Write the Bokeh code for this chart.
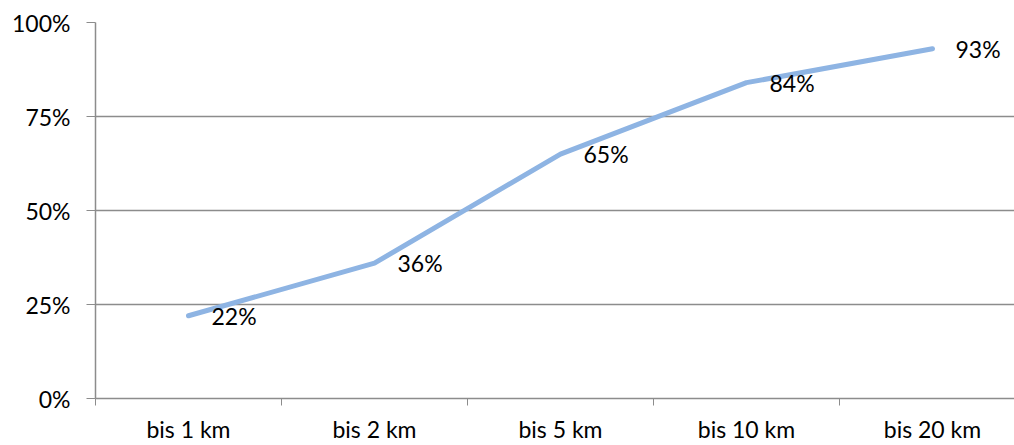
from bokeh.plotting import figure
from bokeh.models import Range1d, FixedTicker, ColumnDataSource, PrintfTickFormatter
from bokeh.core.properties import value
from bokeh.embed import file_html
from bokeh.resources import INLINE

categories = ["bis 1 km", "bis 2 km", "bis 5 km", "bis 10 km", "bis 20 km"]
values = [22, 36, 65, 84, 93]
y_ticks = [0, 25, 50, 75, 100]

FONT = "Lato"
FSIZE = "23px"

xs = [i + 0.5 for i in range(len(categories))]
src = ColumnDataSource(dict(x=xs, y=values, lab=[f"{v}%" for v in values]))

p = figure(width=1014, height=445, output_backend="svg", toolbar_location=None,
           x_range=Range1d(0, 4.941), y_range=Range1d(0, 100),
           min_border_left=95, min_border_right=0, min_border_top=22, min_border_bottom=47)
p.outline_line_color = None
p.background_fill_color = "white"
p.border_fill_color = "white"

p.line("x", "y", source=src, line_color="#8EB4E3", line_width=5, line_cap="round")
p.text("x", "y", text="lab", source=src, text_font=value(FONT), text_font_size=FSIZE,
       text_align="left", text_baseline="middle", x_offset=23, y_offset=0, text_color="black")

xa = p.xaxis[0]
xa.ticker = FixedTicker(ticks=xs, minor_ticks=list(range(len(categories) + 1)))
xa.major_label_overrides = {x: c for x, c in zip(xs, categories)}
xa.major_tick_out = 0
xa.major_tick_in = 0
xa.minor_tick_out = 7
xa.minor_tick_in = 0
xa.minor_tick_line_color = "#8c8c8c"
xa.axis_line_color = "#8c8c8c"
xa.axis_line_width = 1.5
xa.major_label_text_font = FONT
xa.major_label_text_font_size = FSIZE
xa.major_label_text_color = "black"
xa.major_label_standoff = 9

ya = p.yaxis[0]
ya.ticker = FixedTicker(ticks=y_ticks)
ya.formatter = PrintfTickFormatter(format="%d%%")
ya.major_tick_out = 9
ya.major_tick_in = 0
ya.minor_tick_out = 0
ya.minor_tick_in = 0
ya.major_tick_line_color = "#8c8c8c"
ya.axis_line_color = "#8c8c8c"
ya.axis_line_width = 1.5
ya.major_label_text_font = FONT
ya.major_label_text_font_size = FSIZE
ya.major_label_text_color = "black"
ya.major_label_standoff = 16

p.xgrid.grid_line_color = None
p.ygrid.ticker = FixedTicker(ticks=y_ticks)
p.ygrid.grid_line_color = "#8c8c8c"
p.ygrid.grid_line_width = 1.5

open("out.html", "w").write(file_html(p, INLINE))
